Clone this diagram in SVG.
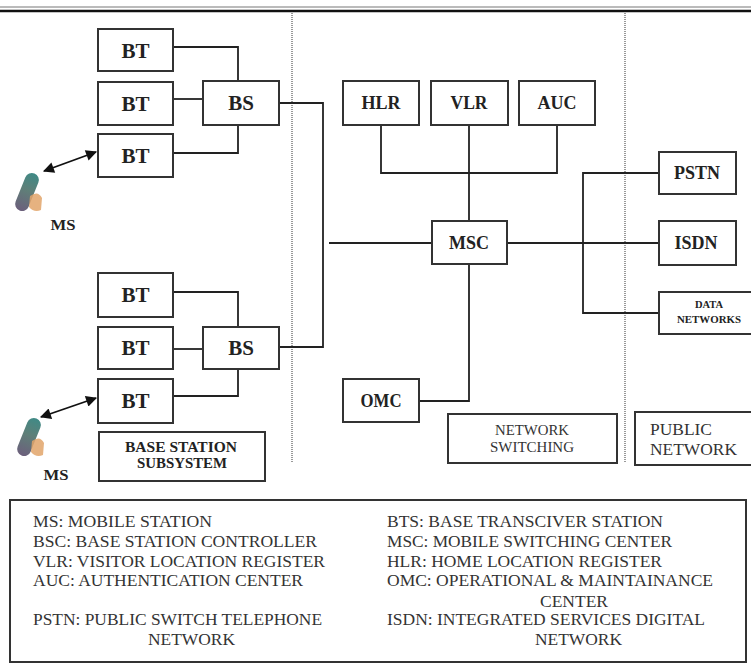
<svg xmlns="http://www.w3.org/2000/svg" width="751" height="665" viewBox="0 0 751 665">
<defs>
<style>
.box{fill:#fff;stroke:#333;stroke-width:2}
.ln{fill:none;stroke:#222;stroke-width:1.8}
.sep{fill:none;stroke:#999;stroke-width:2;stroke-dasharray:1 1}
.b{font-family:"Liberation Serif","Times New Roman",serif;font-weight:bold;fill:#222;text-anchor:middle}
.r{font-family:"Liberation Serif","Times New Roman",serif;fill:#333}
.lg{font-family:"Liberation Serif","Times New Roman",serif;fill:#333;font-size:16px}
</style>
<marker id="ah" viewBox="0 0 10 10" refX="9" refY="5" markerWidth="7" markerHeight="7" orient="auto-start-reverse" markerUnits="userSpaceOnUse">
<path d="M0,0 L10,5 L0,10 z" fill="#111"/>
</marker>
<marker id="ah2" viewBox="0 0 10 10" refX="9" refY="5" markerWidth="13" markerHeight="11" orient="auto-start-reverse" markerUnits="userSpaceOnUse">
<path d="M0,0 L10,5 L0,10 z" fill="#111"/>
</marker>
<linearGradient id="ph" x1="0" y1="0" x2="0" y2="1">
<stop offset="0" stop-color="#3f8a86"/>
<stop offset="0.45" stop-color="#5f7f78"/>
<stop offset="1" stop-color="#6c5f7c"/>
</linearGradient>
</defs>
<rect width="751" height="665" fill="#fff"/>
<!-- top rule -->
<line x1="0" y1="7" x2="751" y2="7" stroke="#777" stroke-width="1"/>
<line x1="0" y1="11" x2="751" y2="11" stroke="#111" stroke-width="2.5"/>
<!-- separators -->
<line class="sep" x1="292" y1="13" x2="292" y2="463"/>
<line class="sep" x1="625" y1="13" x2="625" y2="463"/>

<g id="connectors">
<polyline class="ln" points="173,47 238,47 238,81"/>
<line class="ln" x1="173" y1="99" x2="203" y2="99"/>
<polyline class="ln" points="173,153 238,153 238,125"/>
<polyline class="ln" points="173,292 238,292 238,327"/>
<line class="ln" x1="173" y1="349" x2="203" y2="349"/>
<polyline class="ln" points="173,396 238,396 238,369"/>
<polyline class="ln" points="279,103 323,103 323,347 279,347"/>
<line class="ln" x1="329" y1="243" x2="432" y2="243"/>
<polyline class="ln" points="381,125 381,173 557,173 557,125"/>
<line class="ln" x1="469" y1="125" x2="469" y2="221"/>
<polyline class="ln" points="469,264 469,401 419,401"/>
<line class="ln" x1="507" y1="243" x2="659" y2="243"/>
<polyline class="ln" points="659,173 583,173 583,313 659,313"/>
<line x1="44" y1="171" x2="96" y2="152" stroke="#111" stroke-width="1.8" marker-start="url(#ah2)" marker-end="url(#ah2)"/>
<line x1="41" y1="417" x2="96" y2="398" stroke="#111" stroke-width="1.8" marker-start="url(#ah2)" marker-end="url(#ah2)"/>
</g>

<g id="bt1"><rect class="box" x="98" y="29" width="75" height="42"/><text class="b" x="135.5" y="58" font-size="21">BT</text></g>
<g id="bt2"><rect class="box" x="98" y="82" width="75" height="43"/><text class="b" x="135.5" y="111" font-size="21">BT</text></g>
<g id="bt3"><rect class="box" x="98" y="134" width="75" height="43"/><text class="b" x="135.5" y="163" font-size="21">BT</text></g>
<g id="bs1"><rect class="box" x="203" y="81" width="76" height="44"/><text class="b" x="241" y="110" font-size="21">BS</text></g>

<g id="bt4"><rect class="box" x="98" y="273" width="75" height="44"/><text class="b" x="135.5" y="302" font-size="21">BT</text></g>
<g id="bt5"><rect class="box" x="98" y="327" width="75" height="42"/><text class="b" x="135.5" y="355" font-size="21">BT</text></g>
<g id="bt6"><rect class="box" x="98" y="379" width="75" height="44"/><text class="b" x="135.5" y="408" font-size="21">BT</text></g>
<g id="bs2"><rect class="box" x="203" y="327" width="76" height="42"/><text class="b" x="241" y="355" font-size="21">BS</text></g>

<g id="bss"><rect class="box" x="99" y="432" width="166" height="49"/>
<text class="b" x="181" y="452" font-size="14" textLength="112" lengthAdjust="spacingAndGlyphs">BASE STATION</text>
<text class="b" x="182" y="468" font-size="14" textLength="90" lengthAdjust="spacingAndGlyphs">SUBSYSTEM</text></g>

<g id="ms1">
<g transform="translate(27,192) rotate(22)">
<rect x="-7" y="-20" width="14" height="40" rx="7" fill="url(#ph)"/>
</g>
<path d="M30,196 Q38,190 42,198 L41,210 Q34,213 29,207 Z" fill="#e2a46a" opacity="0.85"/>
<text class="b" x="63" y="230" font-size="14" textLength="25" lengthAdjust="spacingAndGlyphs">MS</text>
</g>
<g id="ms2">
<g transform="translate(29,437) rotate(22)">
<rect x="-7" y="-20" width="14" height="40" rx="7" fill="url(#ph)"/>
</g>
<path d="M32,441 Q40,435 44,443 L43,455 Q36,458 31,452 Z" fill="#e2a46a" opacity="0.85"/>
<text class="b" x="56" y="480" font-size="14" textLength="25" lengthAdjust="spacingAndGlyphs">MS</text>
</g>

<g id="hlr"><rect class="box" x="343" y="81" width="76" height="44"/><text class="b" x="381" y="109" font-size="18">HLR</text></g>
<g id="vlr"><rect class="box" x="431" y="81" width="77" height="44"/><text class="b" x="469" y="109" font-size="18" textLength="37" lengthAdjust="spacingAndGlyphs">VLR</text></g>
<g id="auc"><rect class="box" x="519" y="81" width="76" height="44"/><text class="b" x="557" y="109" font-size="18">AUC</text></g>
<g id="msc"><rect class="box" x="432" y="221" width="75" height="43"/><text class="b" x="469" y="249" font-size="18">MSC</text></g>
<g id="omc"><rect class="box" x="343" y="379" width="76" height="43"/><text class="b" x="381" y="407" font-size="18" textLength="41" lengthAdjust="spacingAndGlyphs">OMC</text></g>

<g id="pstn"><rect class="box" x="659" y="152" width="77" height="42"/><text class="b" x="697" y="179" font-size="18" textLength="46" lengthAdjust="spacingAndGlyphs">PSTN</text></g>
<g id="isdn"><rect class="box" x="659" y="221" width="77" height="44"/><text class="b" x="696" y="249" font-size="18" textLength="43" lengthAdjust="spacingAndGlyphs">ISDN</text></g>
<g id="data"><rect class="box" x="659" y="292" width="100" height="42"/>
<text class="b" x="709" y="308" font-size="10.5">DATA</text>
<text class="b" x="709" y="323" font-size="10.5" textLength="64" lengthAdjust="spacingAndGlyphs">NETWORKS</text></g>

<g id="netsw"><rect class="box" x="448" y="414" width="169" height="49"/>
<text class="r" x="532" y="435" font-size="14" text-anchor="middle" textLength="74" lengthAdjust="spacingAndGlyphs">NETWORK</text>
<text class="r" x="532" y="452" font-size="14" text-anchor="middle" textLength="84" lengthAdjust="spacingAndGlyphs">SWITCHING</text></g>
<g id="pubnet"><rect class="box" x="635" y="412" width="130" height="53"/>
<text class="r" x="650" y="435" font-size="17" textLength="62" lengthAdjust="spacingAndGlyphs">PUBLIC</text>
<text class="r" x="650" y="455" font-size="17" textLength="87" lengthAdjust="spacingAndGlyphs">NETWORK</text></g>

<g id="legend">
<rect x="10" y="500" width="736" height="162" fill="#fff" stroke="#333" stroke-width="2"/>
<text class="lg" x="33" y="527" textLength="179" lengthAdjust="spacingAndGlyphs">MS: MOBILE STATION</text>
<text class="lg" x="33" y="547" textLength="284" lengthAdjust="spacingAndGlyphs">BSC: BASE STATION CONTROLLER</text>
<text class="lg" x="33" y="567" textLength="292" lengthAdjust="spacingAndGlyphs">VLR: VISITOR LOCATION REGISTER</text>
<text class="lg" x="33" y="586" textLength="270" lengthAdjust="spacingAndGlyphs">AUC: AUTHENTICATION CENTER</text>
<text class="lg" x="33" y="625" textLength="289" lengthAdjust="spacingAndGlyphs">PSTN: PUBLIC SWITCH TELEPHONE</text>
<text class="lg" x="148" y="645" textLength="87" lengthAdjust="spacingAndGlyphs">NETWORK</text>
<text class="lg" x="387" y="527" textLength="276" lengthAdjust="spacingAndGlyphs">BTS: BASE TRANSCIVER STATION</text>
<text class="lg" x="387" y="547" textLength="285" lengthAdjust="spacingAndGlyphs">MSC: MOBILE SWITCHING CENTER</text>
<text class="lg" x="387" y="567" textLength="275" lengthAdjust="spacingAndGlyphs">HLR: HOME LOCATION REGISTER</text>
<text class="lg" x="387" y="586" textLength="326" lengthAdjust="spacingAndGlyphs">OMC: OPERATIONAL &amp; MAINTAINANCE</text>
<text class="lg" x="540" y="607" textLength="68" lengthAdjust="spacingAndGlyphs">CENTER</text>
<text class="lg" x="387" y="625" textLength="318" lengthAdjust="spacingAndGlyphs">ISDN: INTEGRATED SERVICES DIGITAL</text>
<text class="lg" x="535" y="645" textLength="87" lengthAdjust="spacingAndGlyphs">NETWORK</text>
</g>
</svg>
